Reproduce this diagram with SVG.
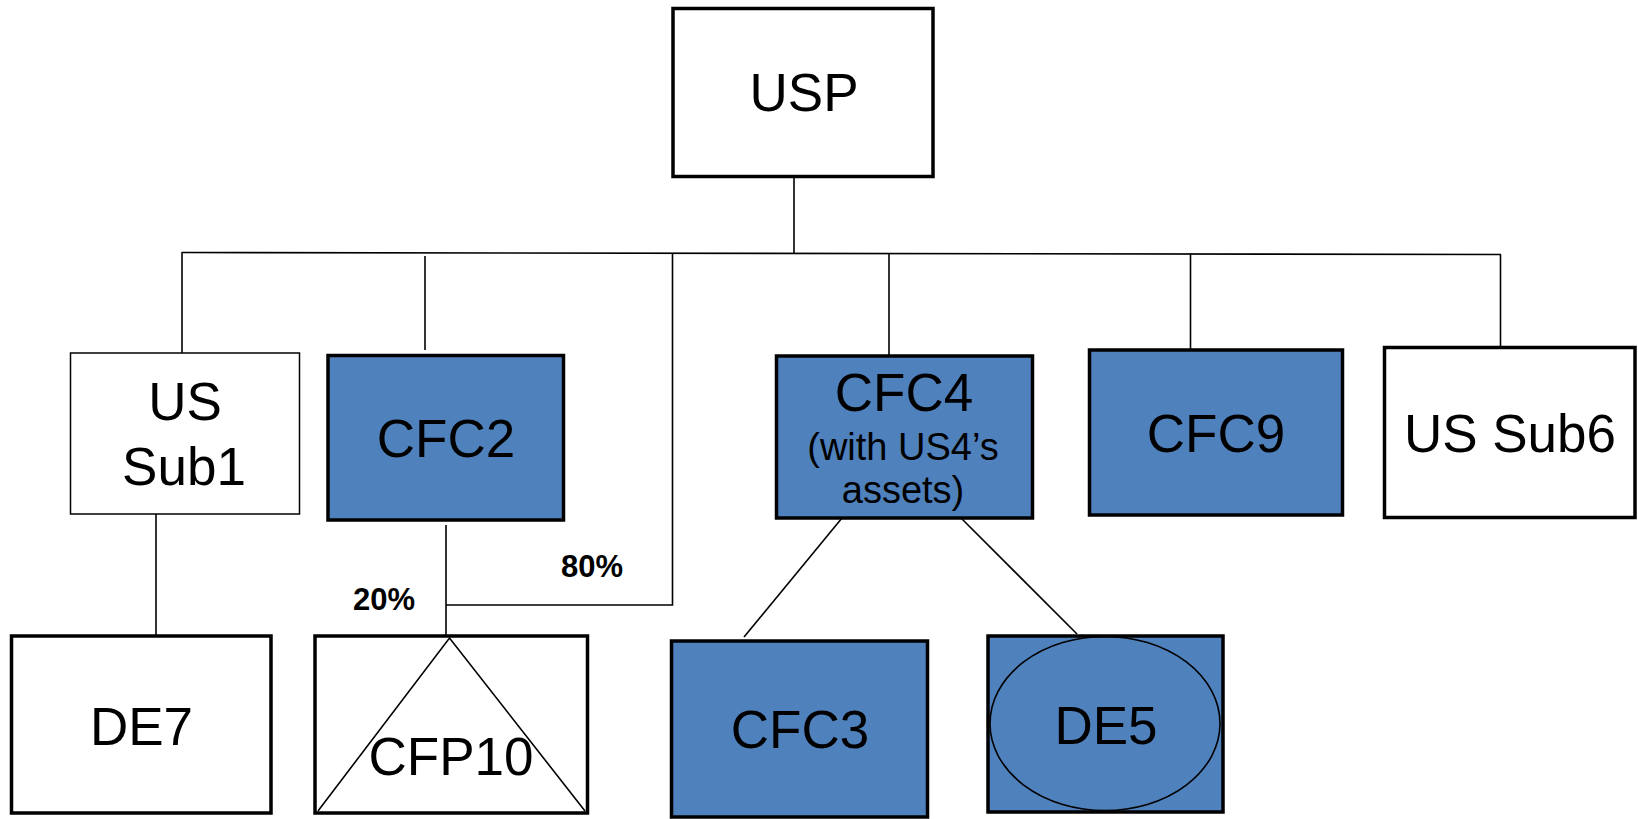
<svg xmlns="http://www.w3.org/2000/svg" width="1638" height="819" viewBox="0 0 1638 819">
<style>
.box{stroke:#000;stroke-width:3.5;fill:#fff}
.thin{stroke:#000;stroke-width:1.5;fill:#fff}
.blue{fill:#4F81BD}
.lbl{font-family:"Liberation Sans",Arial,sans-serif;font-size:53px;fill:#000;text-anchor:middle}
.sm{font-size:38px}
.pct{font-family:"Liberation Sans",Arial,sans-serif;font-size:31px;font-weight:bold;fill:#000;text-anchor:middle}
.ln{stroke:#000;stroke-width:1.6;fill:none}
</style>
<rect width="1638" height="819" fill="#fff"/>
<g id="connectors">
<line class="ln" x1="794" y1="177" x2="794" y2="253.5"/>
<line class="ln" x1="181.5" y1="252.5" x2="1501" y2="254.5"/>
<line class="ln" x1="182" y1="252.5" x2="182" y2="353"/>
<line class="ln" x1="425" y1="256" x2="425" y2="350"/>
<line class="ln" x1="889" y1="253.5" x2="889" y2="356"/>
<line class="ln" x1="1190.5" y1="253.5" x2="1190.5" y2="350"/>
<line class="ln" x1="1500.5" y1="254.5" x2="1500.5" y2="347"/>
<polyline class="ln" points="672.5,253 672.5,605 446,605"/>
<line class="ln" x1="446" y1="525" x2="446" y2="636"/>
<line class="ln" x1="156" y1="514" x2="156" y2="635"/>
<line class="ln" x1="842" y1="518" x2="744" y2="637"/>
<line class="ln" x1="961" y1="518" x2="1077" y2="634"/>
</g>
<g id="USP">
<rect class="box" x="673" y="8.5" width="260" height="168"/>
<text class="lbl" x="804" y="111">USP</text>
</g>
<g id="USSub1">
<rect class="thin" x="70.5" y="353" width="229" height="161"/>
<text class="lbl" x="185" y="420">US</text>
<text class="lbl" x="184" y="485">Sub1</text>
</g>
<g id="CFC2">
<rect class="box blue" x="328" y="355.5" width="235.5" height="164.5"/>
<text class="lbl" x="446" y="457">CFC2</text>
</g>
<g id="CFC4">
<rect class="box blue" x="776.5" y="356" width="256" height="162"/>
<text class="lbl" x="904" y="411">CFC4</text>
<text class="lbl sm" x="903" y="460">(with US4’s</text>
<text class="lbl sm" x="903" y="503">assets)</text>
</g>
<g id="CFC9">
<rect class="box blue" x="1089.5" y="350" width="253" height="165"/>
<text class="lbl" x="1216" y="452">CFC9</text>
</g>
<g id="USSub6">
<rect class="box" x="1384.5" y="347.5" width="250.5" height="170"/>
<text class="lbl" x="1510" y="452">US Sub6</text>
</g>
<g id="DE7">
<rect class="box" x="11.5" y="636" width="259.5" height="177"/>
<text class="lbl" x="141.5" y="745">DE7</text>
</g>
<g id="CFP10">
<rect class="box" x="315" y="636" width="272.5" height="177"/>
<polyline class="ln" points="318,811 449.5,638 585,811"/>
<text class="lbl" x="451" y="775">CFP10</text>
</g>
<g id="CFC3">
<rect class="box blue" x="671.5" y="641" width="256" height="176"/>
<text class="lbl" x="800" y="748">CFC3</text>
</g>
<g id="DE5">
<rect class="box blue" x="988" y="636" width="235" height="176"/>
<ellipse class="ln" cx="1105" cy="723.5" rx="115" ry="87"/>
<text class="lbl" x="1106" y="744">DE5</text>
</g>
<g id="labels">
<text class="pct" x="592" y="577">80%</text>
<text class="pct" x="384" y="610">20%</text>
</g>
</svg>
